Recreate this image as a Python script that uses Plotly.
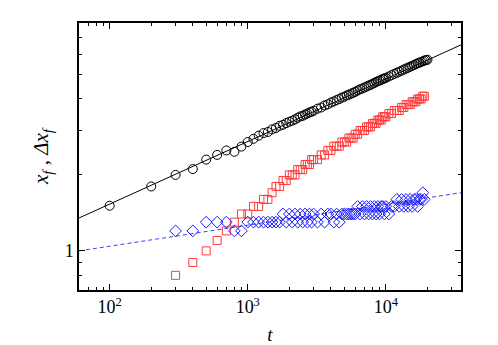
import plotly.graph_objects as go

# time steps (t)
t = [100, 200, 300, 400, 500, 600, 700, 800, 900, 1000,
     1100, 1200, 1300, 1400, 1500, 1600, 1700, 1800, 1900, 2000,
     2100, 2200, 2300, 2400, 2500, 2600, 2700, 2800, 2900, 3000,
     3200, 3400, 3600, 3800, 4000, 4200, 4400, 4600, 4800, 5000,
     5200, 5400, 5600, 5800, 6000, 6250, 6500, 6750, 7000, 7250,
     7500, 7750, 8000, 8250, 8500, 8750, 9000, 9250, 9500, 9750,
     10000, 10500, 11000, 11500, 12000, 12500, 13000, 13500, 14000, 14500,
     15000, 15500, 16000, 16500, 17000, 17500, 18000, 18500, 19000, 19500,
     20000]

# x_f (black circles)
xf = [1.51, 1.80, 2.00, 2.11, 2.30, 2.40, 2.50, 2.47, 2.59, 2.70,
      2.78, 2.86, 2.93, 2.96, 3.03, 3.07, 3.13, 3.16, 3.21, 3.25,
      3.28, 3.32, 3.37, 3.41, 3.43, 3.47, 3.50, 3.54, 3.56, 3.59,
      3.66, 3.70, 3.77, 3.81, 3.87, 3.91, 3.96, 4.00, 4.05, 4.08,
      4.13, 4.16, 4.20, 4.23, 4.27, 4.32, 4.37, 4.40, 4.44, 4.48,
      4.52, 4.55, 4.59, 4.63, 4.67, 4.70, 4.73, 4.76, 4.80, 4.82,
      4.85, 4.91, 4.97, 5.03, 5.08, 5.13, 5.18, 5.23, 5.28, 5.32,
      5.37, 5.41, 5.45, 5.50, 5.54, 5.57, 5.61, 5.64, 5.68, 5.70,
      5.72]

# delta x_f (red squares), starts at t = 300
t_dx = t[2:]
dxf = [0.8, 0.9, 1.0, 1.1, 1.2, 1.3, 1.4, 1.4,
       1.5, 1.5, 1.6, 1.6, 1.7, 1.8, 1.8, 1.9, 1.9, 2.0,
       2.0, 2.0, 2.1, 2.1, 2.1, 2.2, 2.2, 2.2, 2.3, 2.3,
       2.3, 2.4, 2.4, 2.5, 2.5, 2.6, 2.6, 2.6, 2.7, 2.7,
       2.7, 2.8, 2.8, 2.8, 2.9, 2.9, 3.0, 3.0, 3.0, 3.1,
       3.1, 3.1, 3.2, 3.2, 3.2, 3.3, 3.3, 3.3, 3.4, 3.4,
       3.4, 3.5, 3.5, 3.6, 3.6, 3.6, 3.7, 3.7, 3.8, 3.8,
       3.8, 3.9, 3.9, 3.9, 4.0, 4.0, 4.0, 4.1, 4.1]

# blue diamonds, starts at t = 300
t_bl = t[2:]
blue = [1.2, 1.2, 1.3, 1.3, 1.3, 1.2, 1.2, 1.3,
        1.3, 1.3, 1.3, 1.3, 1.3, 1.3, 1.3, 1.4, 1.3, 1.4,
        1.3, 1.4, 1.3, 1.4, 1.3, 1.4, 1.3, 1.4, 1.3, 1.4,
        1.3, 1.4, 1.3, 1.4, 1.4, 1.3, 1.4, 1.3, 1.4, 1.4,
        1.4, 1.4, 1.4, 1.4, 1.4, 1.5, 1.4, 1.5, 1.4, 1.5,
        1.4, 1.5, 1.4, 1.5, 1.4, 1.5, 1.4, 1.5, 1.5, 1.4,
        1.5, 1.4, 1.5, 1.5, 1.6, 1.5, 1.6, 1.5, 1.6, 1.5,
        1.6, 1.5, 1.6, 1.6, 1.5, 1.6, 1.6, 1.7, 1.6]

# power-law fits across the axis range
fit_t = [60, 35000]
fit_black = [1.35, 6.55]
fit_blue = [1.0, 1.70]

serif = "Liberation Serif, serif"

fig = go.Figure()
fig.add_trace(go.Scatter(x=fit_t, y=fit_black, mode='lines',
                         line=dict(color='black', width=1)))
fig.add_trace(go.Scatter(x=fit_t, y=fit_blue, mode='lines',
                         line=dict(color='#3344ff', width=1, dash='4px,3px')))
fig.add_trace(go.Scatter(x=t, y=xf, mode='markers',
                         marker=dict(symbol='circle-open', size=9,
                                     color='black', line=dict(width=1))))
fig.add_trace(go.Scatter(x=t_dx, y=dxf, mode='markers',
                         marker=dict(symbol='square-open', size=8,
                                     color='#ff3b3b', line=dict(width=1))))
fig.add_trace(go.Scatter(x=t_bl, y=blue, mode='markers',
                         marker=dict(symbol='diamond-open', size=9,
                                     color='#1a1aff', line=dict(width=1))))

axis_common = dict(
    type='log', showgrid=False, zeroline=False,
    showline=True, linecolor='black', linewidth=1.5, mirror='ticks',
    ticks='inside', ticklen=6, tickwidth=1, tickcolor='black',
    tickfont=dict(family=serif, size=18, color='black'),
)

fig.update_layout(
    width=498, height=345,
    margin=dict(l=71, r=45, t=15, b=63),
    paper_bgcolor='white', plot_bgcolor='white',
    showlegend=False,
    font=dict(family=serif, color='black'),
    xaxis=dict(axis_common,
               range=[1.778, 4.544],
               tickvals=[100, 1000, 10000],
               ticktext=['10<sup>2</sup>', '10<sup>3</sup>', '10<sup>4</sup>'],
               minor=dict(tickvals=[60, 70, 80, 90, 200, 300, 400, 500, 600, 700, 800, 900,
                                    2000, 3000, 4000, 5000, 6000, 7000, 8000, 9000,
                                    20000, 30000],
                          ticks='inside', ticklen=3.5, tickwidth=1, tickcolor='black'),
               title=dict(text='<i>t</i>', font=dict(family=serif, size=19, color='black'),
                          standoff=11)),
    yaxis=dict(axis_common,
               range=[-0.155, 0.903],
               tickvals=[1], ticktext=['1'],
               minor=dict(tickvals=[0.8, 0.9, 2, 3, 4, 5, 6, 7],
                          ticks='inside', ticklen=3.5, tickwidth=1, tickcolor='black'),
               title=dict(text='<i>x<sub>f</sub></i> , <i>Δx<sub>f</sub></i>',
                          font=dict(family=serif, size=21, color='black'),
                          standoff=10)),
)

fig.write_html("out.html")
